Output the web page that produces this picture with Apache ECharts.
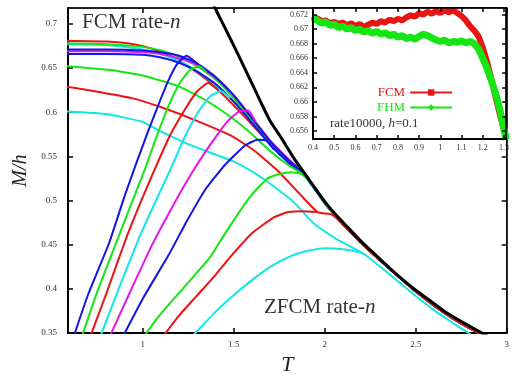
<!DOCTYPE html>
<html>
<head>
<meta charset="utf-8">
<script src="https://cdn.jsdelivr.net/npm/echarts@6/dist/echarts.min.js"></script>
<style>
  html, body { margin: 0; padding: 0; background: #fff; }
  #chart { width: 512px; height: 381px; }
</style>
</head>
<body>
<div id="chart"></div>
<script>
// ---- main panel: magnetisation M/h versus temperature T ----
// field-cooled (FC) branches, nine cooling rates
const fcA = [[0.58,0.671],[0.8,0.671],[1.0,0.670],[1.1,0.668],[1.2,0.664],[1.3,0.655],[1.4,0.640],[1.5,0.619],[1.6,0.593],[1.7,0.567],[1.8,0.546],[1.9,0.527],[2.0,0.497],[2.1,0.473],[2.2,0.452],[2.3,0.433],[2.4,0.415],[2.5,0.397],[2.6,0.381],[2.7,0.367],[2.8,0.355],[2.87,0.348]];
const fcB = [[0.58,0.678],[0.8,0.677],[1.0,0.674],[1.1,0.670],[1.2,0.663],[1.3,0.652],[1.4,0.637],[1.5,0.616],[1.6,0.590],[1.7,0.564],[1.8,0.544],[1.9,0.526],[2.0,0.497],[2.1,0.473],[2.2,0.452],[2.3,0.433],[2.4,0.415],[2.5,0.397],[2.6,0.381],[2.7,0.367],[2.8,0.355],[2.87,0.348]];
const fcC = [[0.58,0.681],[0.8,0.680],[0.95,0.677],[1.05,0.672],[1.15,0.664],[1.25,0.652],[1.35,0.637],[1.45,0.618],[1.55,0.597],[1.65,0.575],[1.75,0.555],[1.85,0.538],[1.95,0.514],[2.0,0.497],[2.1,0.473],[2.2,0.452],[2.3,0.433],[2.4,0.415],[2.5,0.397],[2.6,0.381],[2.7,0.367],[2.8,0.355],[2.87,0.348]];
const fcD = [[0.58,0.677],[0.8,0.676],[1.0,0.671],[1.1,0.666],[1.2,0.658],[1.3,0.646],[1.4,0.631],[1.5,0.612],[1.6,0.589],[1.7,0.563],[1.8,0.543],[1.9,0.525],[2.0,0.497],[2.1,0.473],[2.2,0.452],[2.3,0.433],[2.4,0.415],[2.5,0.397],[2.6,0.381],[2.7,0.367],[2.8,0.355],[2.87,0.348]];
const fcE = [[0.58,0.669],[0.8,0.669],[1.0,0.668],[1.1,0.666],[1.2,0.661],[1.3,0.653],[1.4,0.639],[1.5,0.619],[1.6,0.594],[1.7,0.568],[1.8,0.547],[1.9,0.528],[2.0,0.497],[2.1,0.473],[2.2,0.452],[2.3,0.433],[2.4,0.415],[2.5,0.397],[2.6,0.381],[2.7,0.367],[2.8,0.355],[2.87,0.348]];
const fcF = [[0.58,0.666],[0.8,0.666],[1.0,0.665],[1.1,0.662],[1.2,0.656],[1.3,0.646],[1.4,0.632],[1.5,0.612],[1.6,0.588],[1.7,0.563],[1.8,0.543],[1.9,0.526],[2.0,0.497],[2.1,0.473],[2.2,0.452],[2.3,0.433],[2.4,0.415],[2.5,0.397],[2.6,0.381],[2.7,0.367],[2.8,0.355],[2.87,0.348]];
const fcG = [[0.58,0.652],[0.85,0.647],[1.03,0.640],[1.2,0.629],[1.35,0.613],[1.5,0.592],[1.6,0.575],[1.7,0.556],[1.8,0.540],[1.88,0.530],[1.95,0.513],[2.0,0.497],[2.1,0.473],[2.2,0.452],[2.3,0.433],[2.4,0.415],[2.5,0.397],[2.6,0.381],[2.7,0.367],[2.8,0.355],[2.87,0.348]];
const fcH = [[0.58,0.629],[0.76,0.623],[0.94,0.616],[1.125,0.604],[1.3,0.590],[1.48,0.574],[1.61,0.557],[1.74,0.534],[1.86,0.508],[1.96,0.487],[2.04,0.484],[2.1,0.473],[2.2,0.452],[2.3,0.433],[2.4,0.415],[2.5,0.397],[2.6,0.381],[2.7,0.367],[2.8,0.355],[2.87,0.348]];
const fcI = [[0.58,0.601],[0.8,0.598],[1.0,0.589],[1.1,0.578],[1.25,0.564],[1.4,0.552],[1.5,0.544],[1.6,0.533],[1.7,0.519],[1.83,0.498],[1.94,0.474],[2.06,0.457],[2.15,0.447],[2.22,0.439],[2.3,0.426],[2.4,0.409],[2.5,0.392],[2.6,0.376],[2.7,0.362],[2.79,0.350],[2.82,0.346]];

// zero-field-cooled (ZFC) branches, same nine rates
const zfcA = [[0.61,0.34],[0.70,0.394],[0.815,0.452],[0.90,0.505],[0.962,0.541],[1.03,0.579],[1.087,0.609],[1.141,0.636],[1.19,0.655],[1.24,0.664],[1.3,0.655]];
const zfcB = [[0.655,0.34],[0.75,0.397],[0.870,0.461],[0.95,0.503],[1.016,0.538],[1.08,0.575],[1.141,0.607],[1.2,0.632],[1.26,0.648],[1.31,0.652],[1.35,0.645]];
const zfcC = [[0.70,0.34],[0.80,0.395],[0.908,0.457],[0.99,0.499],[1.071,0.538],[1.15,0.574],[1.234,0.604],[1.3,0.624],[1.36,0.633],[1.42,0.624]];
const zfcD = [[0.755,0.34],[0.86,0.396],[0.978,0.457],[1.07,0.499],[1.158,0.538],[1.23,0.572],[1.304,0.600],[1.37,0.618],[1.43,0.624],[1.48,0.616]];
const zfcE = [[0.805,0.34],[0.92,0.392],[1.049,0.449],[1.16,0.492],[1.266,0.530],[1.37,0.563],[1.467,0.590],[1.53,0.601],[1.58,0.602],[1.62,0.589]];
const zfcF = [[0.875,0.34],[1.0,0.389],[1.141,0.438],[1.24,0.476],[1.342,0.512],[1.45,0.540],[1.56,0.562],[1.63,0.569],[1.68,0.568],[1.72,0.558]];
const zfcG = [[0.985,0.34],[1.08,0.367],[1.158,0.386],[1.27,0.412],[1.37,0.436],[1.45,0.462],[1.53,0.487],[1.6,0.507],[1.685,0.525],[1.75,0.530],[1.82,0.532],[1.88,0.530]];
const zfcH = [[1.10,0.343],[1.2,0.37],[1.3,0.393],[1.4,0.416],[1.48,0.436],[1.6,0.463],[1.72,0.481],[1.80,0.487],[1.88,0.488],[1.96,0.487]];
const zfcI = [[1.27,0.346],[1.40,0.374],[1.5,0.393],[1.6,0.41],[1.7,0.425],[1.8,0.436],[1.9,0.443],[2.0,0.446],[2.1,0.445],[2.18,0.442],[2.22,0.439]];

// equilibrium curve
const equil = [[1.385,0.725],[1.397,0.718],[1.46,0.692],[1.522,0.666],[1.585,0.639],[1.647,0.612],[1.70,0.590],[1.761,0.571],[1.83,0.548],[1.902,0.527],[1.95,0.513],[2.011,0.496],[2.065,0.483],[2.12,0.471],[2.19,0.456],[2.266,0.441],[2.37,0.421],[2.484,0.401],[2.57,0.388],[2.663,0.374],[2.76,0.362],[2.864,0.350],[2.9,0.346]];

const mainXTicks = [1, 1.5, 2, 2.5, 3];
const mainYTicks = [0.35, 0.4, 0.45, 0.5, 0.55, 0.6, 0.65, 0.7];

// ---- inset: FCM vs FHM at rate 10000, h = 0.1 ----
const insetT = [0.40,0.42,0.44,0.46,0.48,0.50,0.52,0.54,0.56,0.58,0.60,0.62,0.64,0.66,0.68,0.70,0.72,0.74,0.76,0.78,0.80,0.82,0.84,0.86,0.88,0.90,0.92,0.94,0.96,0.98,1.00,1.02,1.04,1.06,1.08,1.10,1.12,1.14,1.16,1.18,1.20,1.22,1.24,1.26,1.28,1.30,1.31];
const fcmInset = [0.6713,0.6715,0.6711,0.6712,0.6708,0.6710,0.6707,0.6709,0.6705,0.6708,0.6704,0.6707,0.6703,0.6706,0.6709,0.6707,0.6711,0.6709,0.6713,0.6711,0.6714,0.6712,0.6716,0.6719,0.6717,0.6722,0.6720,0.6724,0.6721,0.6725,0.6722,0.6726,0.6723,0.6726,0.6722,0.6718,0.6712,0.6704,0.6698,0.6690,0.6675,0.6655,0.6632,0.6607,0.6583,0.6562,0.6550];
const fhmInset = [0.6715,0.6712,0.6708,0.6710,0.6705,0.6707,0.6702,0.6704,0.6700,0.6702,0.6698,0.6700,0.6696,0.6698,0.6694,0.6697,0.6693,0.6695,0.6691,0.6693,0.6689,0.6691,0.6687,0.6689,0.6686,0.6690,0.6693,0.6691,0.6688,0.6685,0.6683,0.6685,0.6681,0.6683,0.6682,0.6684,0.6681,0.6683,0.6680,0.6673,0.6660,0.6646,0.6630,0.6612,0.6590,0.6562,0.6548];
const insetXTicks = [0.4,0.5,0.6,0.7,0.8,0.9,1,1.1,1.2,1.3];
const insetYTicks = [0.656,0.658,0.66,0.662,0.664,0.666,0.668,0.67,0.672];

const BLUE = '#1414e6', GREEN = '#14e614', RED = '#ea1414', CYAN = '#14e6e6', MAGENTA = '#e614e6';
const SERIF = '"Liberation Serif", "DejaVu Serif", serif';

const fcSets = [[fcC, RED], [fcD, CYAN], [fcB, GREEN], [fcF, BLUE], [fcE, MAGENTA], [fcA, BLUE], [fcG, GREEN], [fcH, RED], [fcI, CYAN]];
const zfcSets = [[zfcA, BLUE], [zfcB, GREEN], [zfcC, RED], [zfcD, CYAN], [zfcE, MAGENTA], [zfcF, BLUE], [zfcG, GREEN], [zfcH, RED], [zfcI, CYAN]];

function curve(data, color) {
  return {
    type: 'line', xAxisIndex: 0, yAxisIndex: 0, data: data,
    showSymbol: false, symbol: 'none', smooth: 0.15, silent: true,
    lineStyle: { color: color, width: 2 }
  };
}

const series = [];
fcSets.forEach(s => series.push(curve(s[0], s[1])));
zfcSets.forEach(s => series.push(curve(s[0], s[1])));
series.push({
  type: 'line', xAxisIndex: 0, yAxisIndex: 0, data: equil,
  showSymbol: false, symbol: 'none', smooth: 0.2, silent: true,
  lineStyle: { color: '#000', width: 3 }
});
series.push({
  name: 'FCM', type: 'line', xAxisIndex: 2, yAxisIndex: 2, z: 8,
  data: insetT.map((t, i) => [t, fcmInset[i]]),
  symbol: 'rect', symbolSize: 3, showSymbol: true, silent: true,
  itemStyle: { color: RED }, lineStyle: { color: RED, width: 6 }
});
series.push({
  name: 'FHM', type: 'line', xAxisIndex: 2, yAxisIndex: 2, z: 9,
  data: insetT.map((t, i) => [t, fhmInset[i]]),
  symbol: 'diamond', symbolSize: 5, showSymbol: true, silent: true,
  itemStyle: { color: GREEN }, lineStyle: { color: GREEN, width: 7 }
});

const labelStyle = { fontFamily: SERIF, fontSize: 9, color: '#333' };
const insetLabel = { fontFamily: SERIF, fontSize: 8, color: '#333' };

const chart = echarts.init(document.getElementById('chart'), null, { renderer: 'canvas' });
chart.setOption({
  animation: false,
  backgroundColor: '#fff',
  grid: [
    { left: 68, top: 8, right: 1, bottom: 42, show: true, borderColor: '#000', borderWidth: 1, backgroundColor: '#fff' },
    { left: 313, top: 8, right: 1, bottom: 242, show: true, borderColor: '#000', borderWidth: 1, backgroundColor: '#fff', z: 5 }
  ],
  xAxis: [
    { type: 'value', gridIndex: 0, position: 'bottom', min: 0.589, max: 3,
      name: 'T', nameLocation: 'middle', nameGap: 19,
      nameTextStyle: { fontFamily: SERIF, fontSize: 22, fontStyle: 'italic', color: '#222' },
      axisLine: { onZero: false, lineStyle: { color: '#000', width: 2 } },
      axisTick: { inside: true, length: 5, customValues: mainXTicks, lineStyle: { color: '#000', width: 1.5 } },
      axisLabel: { customValues: mainXTicks, margin: 7, ...labelStyle },
      splitLine: { show: false } },
    { type: 'value', gridIndex: 0, position: 'top', min: 0.589, max: 3,
      axisLine: { onZero: false, lineStyle: { color: '#000', width: 1.5 } },
      axisTick: { inside: true, length: 5, customValues: mainXTicks, lineStyle: { color: '#000', width: 1.5 } },
      axisLabel: { show: false }, splitLine: { show: false } },
    { type: 'value', gridIndex: 1, position: 'bottom', min: 0.4, max: 1.31,
      axisLine: { onZero: false, lineStyle: { color: '#000', width: 2 } },
      axisTick: { inside: true, length: 4, customValues: insetXTicks, lineStyle: { color: '#000', width: 1.5 } },
      axisLabel: { customValues: insetXTicks, margin: 5, ...insetLabel },
      splitLine: { show: false }, z: 10 },
    { type: 'value', gridIndex: 1, position: 'top', min: 0.4, max: 1.31,
      axisLine: { onZero: false, lineStyle: { color: '#000', width: 1.5 } },
      axisTick: { inside: true, length: 4, customValues: insetXTicks, lineStyle: { color: '#000', width: 1.5 } },
      axisLabel: { show: false }, splitLine: { show: false }, z: 10 }
  ],
  yAxis: [
    { type: 'value', gridIndex: 0, position: 'left', min: 0.35, max: 0.718,
      name: 'M/h', nameLocation: 'middle', nameGap: 36, nameRotate: 90,
      nameTextStyle: { fontFamily: SERIF, fontSize: 20, fontStyle: 'italic', color: '#222' },
      axisLine: { onZero: false, lineStyle: { color: '#000', width: 2 } },
      axisTick: { inside: true, length: 5, customValues: mainYTicks, lineStyle: { color: '#000', width: 1.5 } },
      axisLabel: { customValues: mainYTicks, margin: 11, ...labelStyle },
      splitLine: { show: false } },
    { type: 'value', gridIndex: 0, position: 'right', min: 0.35, max: 0.718,
      axisLine: { onZero: false, lineStyle: { color: '#000', width: 1.5 } },
      axisTick: { inside: true, length: 5, customValues: mainYTicks, lineStyle: { color: '#000', width: 1.5 } },
      axisLabel: { show: false }, splitLine: { show: false } },
    { type: 'value', gridIndex: 1, position: 'left', min: 0.6549, max: 0.6729,
      axisLine: { onZero: false, lineStyle: { color: '#000', width: 2 } },
      axisTick: { inside: true, length: 4, customValues: insetYTicks, lineStyle: { color: '#000', width: 1.5 } },
      axisLabel: { customValues: insetYTicks, margin: 5, ...insetLabel },
      splitLine: { show: false }, z: 10 },
    { type: 'value', gridIndex: 1, position: 'right', min: 0.6549, max: 0.6729,
      axisLine: { onZero: false, lineStyle: { color: '#000', width: 1.5 } },
      axisTick: { inside: true, length: 4, customValues: insetYTicks, lineStyle: { color: '#000', width: 1.5 } },
      axisLabel: { show: false }, splitLine: { show: false }, z: 10 }
  ],
  legend: {
    orient: 'vertical', left: 372, top: 81, align: 'right',
    itemWidth: 42, itemHeight: 8, itemGap: 2, z: 12,
    textStyle: { fontFamily: SERIF, fontSize: 13 },
    data: [
      { name: 'FCM', textStyle: { color: RED }, itemStyle: { color: RED }, lineStyle: { width: 2 } },
      { name: 'FHM', textStyle: { color: GREEN }, itemStyle: { color: GREEN }, lineStyle: { width: 2 } }
    ]
  },
  graphic: [
    { type: 'text', left: 82, top: 12, z: 20,
      style: { text: '{a|FCM rate-}{i|n}', rich: {
        a: { fontFamily: SERIF, fontSize: 21, fill: '#333' },
        i: { fontFamily: SERIF, fontSize: 21, fontStyle: 'italic', fill: '#333' } } } },
    { type: 'text', left: 264, top: 297, z: 20,
      style: { text: '{a|ZFCM rate-}{i|n}', rich: {
        a: { fontFamily: SERIF, fontSize: 21, fill: '#333' },
        i: { fontFamily: SERIF, fontSize: 21, fontStyle: 'italic', fill: '#333' } } } },
    { type: 'text', left: 330, top: 117, z: 20,
      style: { text: '{a|rate10000, }{i|h}{a|=0.1}', rich: {
        a: { fontFamily: SERIF, fontSize: 13, fill: '#333' },
        i: { fontFamily: SERIF, fontSize: 13, fontStyle: 'italic', fill: '#333' } } } }
  ],
  series: series
});
</script>
</body>
</html>
